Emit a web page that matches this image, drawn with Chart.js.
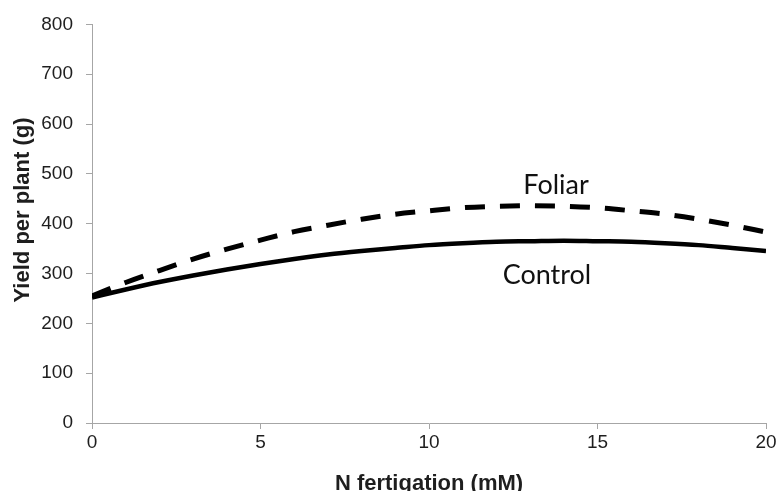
<!DOCTYPE html>
<html>
<head>
<meta charset="utf-8">
<script src="https://cdn.jsdelivr.net/npm/chart.js@4/dist/chart.umd.min.js"></script>
<style>
  html, body { margin: 0; padding: 0; background: #fff; }
  #wrap { width: 780px; height: 491px; }
</style>
</head>
<body>
<div id="wrap"><canvas id="yieldChart" width="780" height="491"></canvas></div>
<script>
// N fertigation (mM)
const nRate = [0, 1, 2, 3, 4, 5, 6, 7, 8, 9, 10, 11, 12, 13, 14, 15, 16, 17, 18, 19, 20];
// yield per plant (g)
const controlYield = [252, 268, 283, 296, 308, 319, 329, 338, 345, 351, 357, 361, 364, 365, 366, 365, 364, 361, 357, 351, 345];
const foliarYield = [255, 282, 306, 329, 349, 367, 384, 397, 409, 419, 426, 432, 435, 436, 435, 432, 426, 419, 409, 397, 383];
const yTicks = [0, 100, 200, 300, 400, 500, 600, 700, 800];
const xTicks = [0, 5, 10, 15, 20];
const curveLabels = ['Foliar', 'Control'];
const yTitle = 'Yield per plant (g)';
const xTitle = 'N fertigation (mM)';

const AXIS_GREY = '#a6a6a6';
const TEXT = '#1e1e1e';
const ARIAL = '"Liberation Sans", Arial, sans-serif';

function toPoints(xs, ys) {
    return xs.map((x, i) => ({ x: x, y: ys[i] }));
}

// text labels placed next to the curves, in data units
const labelSpots = [
    { text: curveLabels[0], x: 13.77, y: 459 },
    { text: curveLabels[1], x: 13.5, y: 279 },
];

const curveLabelPlugin = {
    id: 'curveLabels',
    afterDatasetsDraw(chart) {
        const ctx = chart.ctx;
        const xs = chart.scales.x, ys = chart.scales.y;
        ctx.save();
        ctx.font = '27px Lato, "Open Sans", sans-serif';
        ctx.fillStyle = '#111';
        ctx.textAlign = 'center';
        ctx.textBaseline = 'alphabetic';
        labelSpots.forEach(l => {
            ctx.fillText(l.text, xs.getPixelForValue(l.x), ys.getPixelForValue(l.y));
        });
        // y axis title, sits a little above the middle of the axis
        ctx.font = 'bold 22px ' + ARIAL;
        ctx.fillStyle = TEXT;
        ctx.translate(23, 210);
        ctx.rotate(-Math.PI / 2);
        ctx.textBaseline = 'middle';
        ctx.fillText(yTitle, 0, 0);
        ctx.restore();
    }
};

let canvas = document.getElementById('yieldChart');
let config = {
    type: 'line',
    data: {
        datasets: [
            {
                label: 'Control',
                data: toPoints(nRate, controlYield),
                borderColor: '#000',
                borderWidth: 4.5,
                pointRadius: 0,
                tension: 0.4,
                cubicInterpolationMode: 'monotone',
            },
            {
                label: 'Foliar',
                data: toPoints(nRate, foliarYield),
                borderColor: '#000',
                borderWidth: 5,
                borderDash: [20, 15],
                pointRadius: 0,
                tension: 0.4,
                cubicInterpolationMode: 'monotone',
            },
        ],
    },
    options: {
        responsive: false,
        animation: false,
        layout: { padding: { top: 22, right: 14, left: 0, bottom: 0 } },
        plugins: {
            legend: { display: false },
            tooltip: { enabled: false },
        },
        scales: {
            x: {
                type: 'linear',
                min: 0,
                max: 20,
                afterBuildTicks: s => { s.ticks = xTicks.map(v => ({ value: v })); },
                afterFit: s => { s.height = 68; },
                grid: {
                    display: true,
                    drawOnChartArea: false,
                    drawTicks: true,
                    tickLength: 6,
                    color: AXIS_GREY,
                },
                border: { color: AXIS_GREY, width: 1 },
                ticks: {
                    color: TEXT,
                    padding: 2,
                    maxRotation: 0,
                    font: { family: ARIAL, size: 19 },
                },
                title: {
                    display: true,
                    text: xTitle,
                    color: TEXT,
                    padding: { top: 4, bottom: -6 },
                    font: { family: ARIAL, size: 22, weight: 'bold' },
                },
            },
            y: {
                min: 0,
                max: 800,
                afterBuildTicks: s => { s.ticks = yTicks.map(v => ({ value: v })); },
                afterFit: s => { s.width = 92; },
                grid: {
                    display: true,
                    drawOnChartArea: false,
                    drawTicks: true,
                    tickLength: 6,
                    color: AXIS_GREY,
                },
                border: { color: AXIS_GREY, width: 1 },
                ticks: {
                    color: TEXT,
                    padding: 13,
                    font: { family: ARIAL, size: 19 },
                },
            },
        },
    },
    plugins: [curveLabelPlugin],
};
let chart = new Chart(canvas, config);
</script>
</body>
</html>
